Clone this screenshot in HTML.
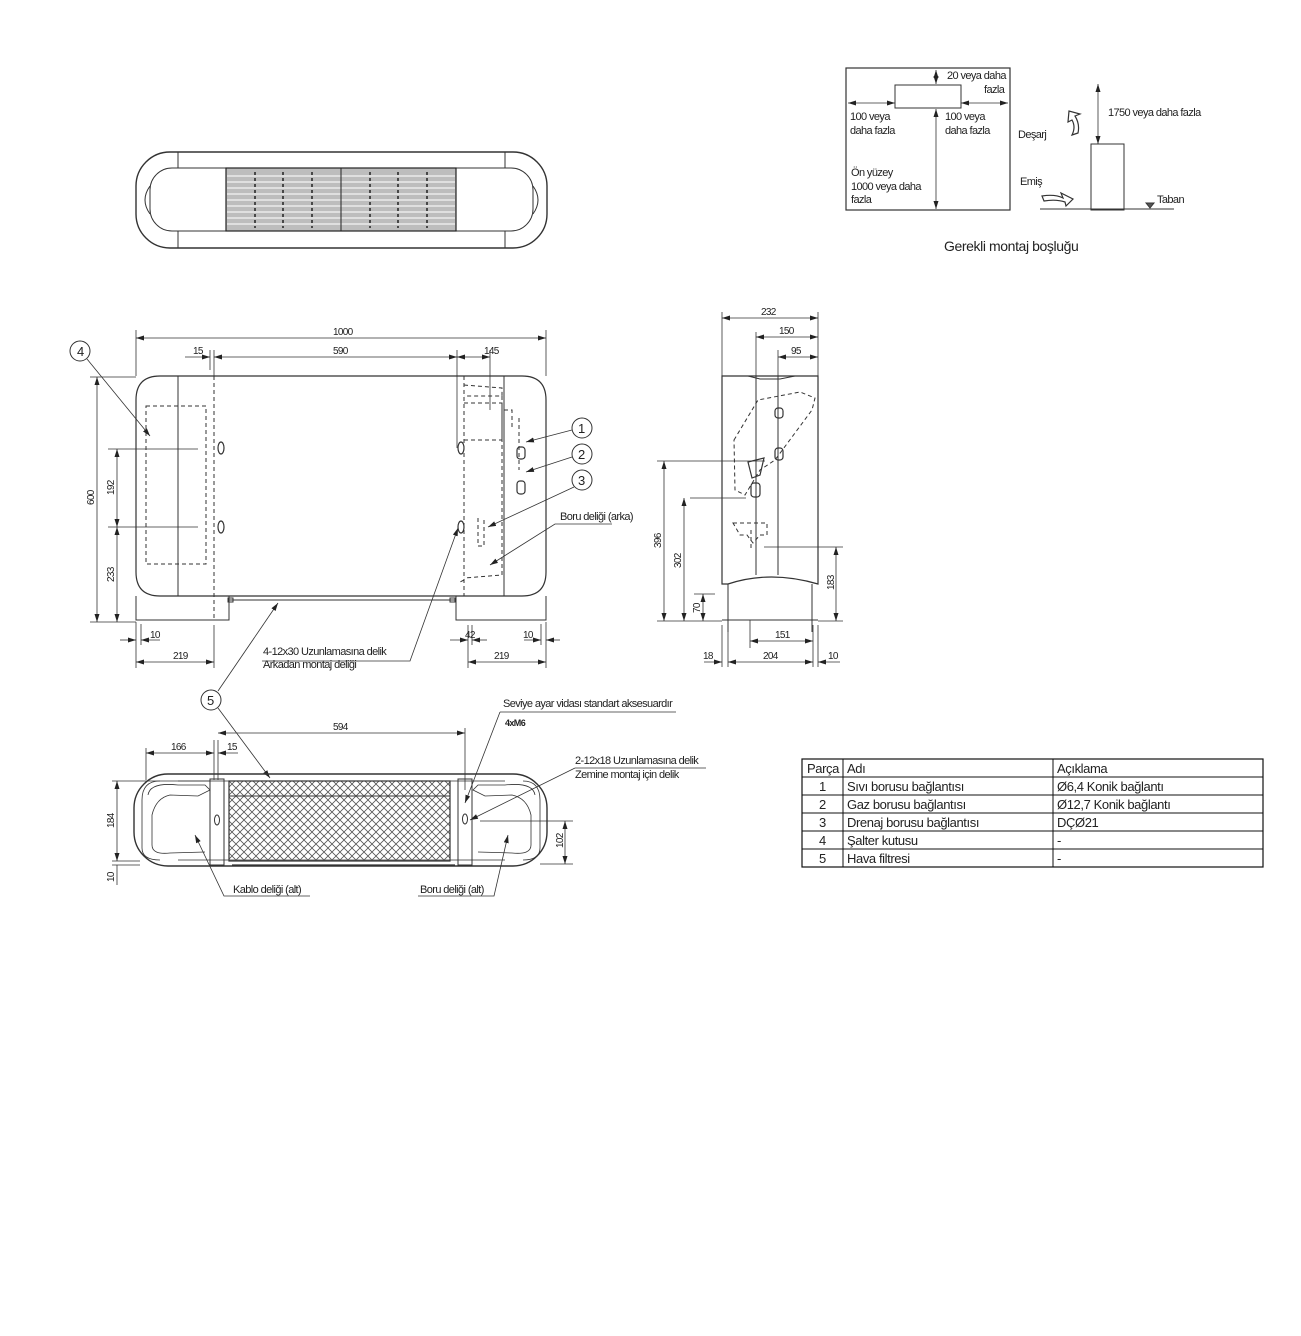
<!DOCTYPE html>
<html><head><meta charset="utf-8"><style>
html,body{margin:0;padding:0;background:#fff;}
svg{display:block;}
text{font-family:"Liberation Sans",sans-serif;fill:#222;}
.t{font-size:11px;letter-spacing:-0.6px;}
.s{font-size:10px;letter-spacing:-0.7px;}
.tb{font-size:13px;letter-spacing:-0.4px;}
</style></head><body>
<svg width="1301" height="1336" viewBox="0 0 1301 1336" xmlns="http://www.w3.org/2000/svg">
<defs>
<marker id="a" markerWidth="8" markerHeight="6" refX="8" refY="3" orient="auto-start-reverse" markerUnits="userSpaceOnUse"><path d="M0,0.5 L8,3 L0,5.5 z" fill="#222"/></marker>
<pattern id="mesh" width="8" height="8" patternUnits="userSpaceOnUse"><path d="M0,0 L8,8 M8,0 L0,8" stroke="#555" stroke-width="0.8"/></pattern>
</defs>
<g fill="none" stroke="#333" stroke-width="1">

<!-- TOP VIEW -->
<rect x="136" y="152" width="411" height="96" rx="34" stroke-width="1.4"/>
<rect x="150" y="168" width="383" height="63" rx="22"/>
<line x1="178" y1="152" x2="178" y2="168"/><line x1="178" y1="231" x2="178" y2="248"/>
<line x1="505" y1="152" x2="505" y2="168"/><line x1="505" y1="231" x2="505" y2="248"/>
<path d="M150,186 Q140,200 150,214 M533,186 Q543,200 533,214"/>
<rect x="226" y="168" width="230" height="63" fill="#bdbdbd" stroke="#222" stroke-width="1.2"/>
<g stroke="#f4f4f4" stroke-width="1.2">
<line x1="227" y1="176" x2="455" y2="176"/><line x1="227" y1="182" x2="455" y2="182"/><line x1="227" y1="188" x2="455" y2="188"/><line x1="227" y1="194" x2="455" y2="194"/><line x1="227" y1="200" x2="455" y2="200"/><line x1="227" y1="206" x2="455" y2="206"/><line x1="227" y1="212" x2="455" y2="212"/><line x1="227" y1="218" x2="455" y2="218"/><line x1="227" y1="224" x2="455" y2="224"/>
</g>
<line x1="341" y1="168" x2="341" y2="231" stroke="#222"/>
<g stroke="#222" stroke-width="1.5" stroke-dasharray="3,3">
<line x1="255" y1="172" x2="255" y2="228"/><line x1="283" y1="172" x2="283" y2="228"/><line x1="312" y1="172" x2="312" y2="228"/><line x1="370" y1="172" x2="370" y2="228"/><line x1="398" y1="172" x2="398" y2="228"/><line x1="427" y1="172" x2="427" y2="228"/>
</g>

<!-- FRONT VIEW -->
<path d="M160,376 H522 Q546,376 546,400 V572 Q546,596 522,596 H160 Q136,596 136,572 V400 Q136,376 160,376 Z" stroke-width="1.2"/>
<line x1="178" y1="376" x2="178" y2="596"/><line x1="504" y1="376" x2="504" y2="596"/>
<g stroke-dasharray="4,3">
<line x1="214" y1="376" x2="214" y2="620"/><line x1="464" y1="376" x2="464" y2="596"/>
<rect x="146" y="406" width="60" height="158"/>
<path d="M464,385 L502,388 V396 H464 M464,403 H502 V440 M464,440 H502 M502,396 V575 L464,578 M464,580 L460,582"/>
<path d="M504,410 H512 V430 M519,418 V470"/>
<path d="M478,518 V546 H484 V518"/>
</g>
<!-- feet -->
<path d="M136,596 V620 H229 V596 M456,596 V620 H546 V596"/>
<path d="M229,596 H456 M229,600 H456"/>
<rect x="228" y="598" width="5" height="4"/><rect x="450" y="598" width="5" height="4"/>
<!-- slots -->
<g stroke-width="1.2">
<ellipse cx="221" cy="448" rx="3" ry="6"/><ellipse cx="221" cy="527" rx="3" ry="6"/>
<ellipse cx="461" cy="448" rx="3" ry="6"/><ellipse cx="461" cy="527" rx="3" ry="6"/>
<rect x="517" y="447" width="8" height="12" rx="3"/><rect x="517" y="481" width="8" height="13" rx="3"/>
</g>
<!-- dims front -->
<g stroke-width="0.8">
<line x1="136" y1="330" x2="136" y2="376"/><line x1="546" y1="330" x2="546" y2="376"/>
<line x1="136" y1="338" x2="546" y2="338" marker-start="url(#a)" marker-end="url(#a)"/>
<line x1="210" y1="350" x2="210" y2="370"/><line x1="214" y1="350" x2="214" y2="376"/>
<line x1="185" y1="357" x2="210" y2="357" marker-end="url(#a)"/>
<line x1="214" y1="357" x2="457" y2="357" marker-start="url(#a)" marker-end="url(#a)"/>
<line x1="457" y1="350" x2="457" y2="448"/><line x1="490" y1="350" x2="490" y2="410"/>
<line x1="457" y1="357" x2="490" y2="357" marker-start="url(#a)" marker-end="url(#a)"/>
<line x1="90" y1="377" x2="136" y2="377"/><line x1="90" y1="622" x2="136" y2="622"/>
<line x1="97" y1="377" x2="97" y2="622" marker-start="url(#a)" marker-end="url(#a)"/>
<line x1="108" y1="449" x2="198" y2="449"/><line x1="108" y1="527" x2="198" y2="527"/>
<line x1="117" y1="449" x2="117" y2="527" marker-start="url(#a)" marker-end="url(#a)"/>
<line x1="117" y1="527" x2="117" y2="622" marker-start="url(#a)" marker-end="url(#a)"/>
<line x1="136" y1="622" x2="136" y2="668"/><line x1="141" y1="624" x2="141" y2="645"/>
<line x1="120" y1="640" x2="136" y2="640" marker-end="url(#a)"/><line x1="160" y1="640" x2="141" y2="640" marker-end="url(#a)"/>
<line x1="214" y1="625" x2="214" y2="668"/>
<line x1="136" y1="662" x2="214" y2="662" marker-start="url(#a)" marker-end="url(#a)"/>
<line x1="468" y1="625" x2="468" y2="668"/><line x1="546" y1="622" x2="546" y2="668"/><line x1="541" y1="624" x2="541" y2="645"/>
<line x1="468" y1="662" x2="546" y2="662" marker-start="url(#a)" marker-end="url(#a)"/>
<line x1="450" y1="640" x2="468" y2="640" marker-end="url(#a)"/><line x1="487" y1="640" x2="472" y2="640" marker-end="url(#a)"/>
<line x1="472" y1="625" x2="472" y2="645"/>
<line x1="524" y1="640" x2="541" y2="640" marker-end="url(#a)"/><line x1="560" y1="640" x2="546" y2="640" marker-end="url(#a)"/>
</g>
<!-- balloons front -->
<circle cx="80" cy="351" r="10"/>
<line x1="87" y1="359" x2="150" y2="436" marker-end="url(#a)" stroke-width="0.8"/>
<circle cx="582" cy="428" r="10"/><circle cx="582" cy="454" r="10"/><circle cx="582" cy="480" r="10"/>
<g stroke-width="0.8">
<line x1="572" y1="430" x2="526" y2="442" marker-end="url(#a)"/>
<line x1="572" y1="457" x2="526" y2="472" marker-end="url(#a)"/>
<line x1="574" y1="487" x2="488" y2="527" marker-end="url(#a)"/>
<path d="M612,524 H555 L490,565" marker-end="url(#a)"/>
<path d="M262,661 H410 L458,528" marker-end="url(#a)"/>
<line x1="218" y1="691" x2="278" y2="603" marker-end="url(#a)"/>
</g>
<circle cx="211" cy="700" r="10"/>
<line x1="218" y1="708" x2="270" y2="778" stroke-width="0.8" marker-end="url(#a)"/>

<!-- SIDE VIEW -->
<path d="M722,376 H818 V584 Q770,570 728,584 H722 Z" stroke-width="1.2"/>
<path d="M728,584 V632 M812,584 V632 M722,620 H818"/>
<line x1="756" y1="376" x2="756" y2="575"/><line x1="778" y1="376" x2="778" y2="575"/>
<path d="M748,376 L760,379 H780 L795,376"/>
<g stroke-dasharray="4,3">
<path d="M734,440 L758,400 L800,392 L815,398 L812,410 L775,460 L760,470 L745,495 L735,490 Z"/>
<path d="M733,523 H767 V535 H760 L753,543 L747,535 H740 Z"/>
<line x1="751" y1="530" x2="751" y2="548"/>
</g>
<g stroke-width="1.2">
<rect x="775" y="408" width="8" height="10" rx="3"/><rect x="775" y="448" width="8" height="12" rx="3"/>
<rect x="751" y="483" width="9" height="14" rx="3"/>
<path d="M748,462 L764,458 L760,475 L752,478 Z"/>
</g>
<g stroke-width="0.8">
<line x1="722" y1="312" x2="722" y2="376"/><line x1="818" y1="312" x2="818" y2="376"/>
<line x1="722" y1="318" x2="818" y2="318" marker-start="url(#a)" marker-end="url(#a)"/>
<line x1="756" y1="332" x2="756" y2="376"/>
<line x1="756" y1="337" x2="818" y2="337" marker-start="url(#a)" marker-end="url(#a)"/>
<line x1="778" y1="350" x2="778" y2="376"/>
<line x1="778" y1="357" x2="818" y2="357" marker-start="url(#a)" marker-end="url(#a)"/>
<line x1="657" y1="461" x2="765" y2="461"/><line x1="690" y1="498" x2="746" y2="498"/>
<line x1="694" y1="594" x2="715" y2="594"/><line x1="657" y1="621" x2="722" y2="621"/>
<line x1="664" y1="461" x2="664" y2="621" marker-start="url(#a)" marker-end="url(#a)"/>
<line x1="684" y1="498" x2="684" y2="621" marker-start="url(#a)" marker-end="url(#a)"/>
<line x1="703" y1="594" x2="703" y2="621" marker-start="url(#a)" marker-end="url(#a)"/>
<line x1="764" y1="547" x2="843" y2="547"/><line x1="818" y1="621" x2="843" y2="621"/>
<line x1="836" y1="547" x2="836" y2="621" marker-start="url(#a)" marker-end="url(#a)"/>
<line x1="750" y1="620" x2="750" y2="648"/>
<line x1="750" y1="641" x2="813" y2="641" marker-start="url(#a)" marker-end="url(#a)"/>
<line x1="722" y1="625" x2="722" y2="667"/><line x1="728" y1="625" x2="728" y2="667"/><line x1="813" y1="625" x2="813" y2="667"/><line x1="818" y1="625" x2="818" y2="667"/>
<line x1="704" y1="662" x2="722" y2="662" marker-end="url(#a)"/>
<line x1="728" y1="662" x2="813" y2="662" marker-start="url(#a)" marker-end="url(#a)"/>
<line x1="840" y1="662" x2="818" y2="662" marker-end="url(#a)"/>
</g>

<!-- BOTTOM VIEW -->
<rect x="134" y="774" width="413" height="92" rx="34" stroke-width="1.4"/>
<path d="M178,781 H505 M178,860 H505" stroke-width="0.8"/>
<path d="M160,781 Q142,781 142,800 V848 Q142,860 160,860 M523,781 Q540,781 540,800 V848 Q540,860 523,860" stroke-width="0.8"/>
<path d="M148,795 Q150,782 178,785 H205 L210,790 L198,796 L170,795 Q156,798 152,815 V845 Q152,855 170,853 L205,852" stroke-width="0.8"/>
<path d="M535,795 Q533,782 505,785 H478 L473,790 L485,796 L512,795 Q527,798 531,815 V845 Q531,855 512,853 L478,852" stroke-width="0.8"/>
<rect x="210" y="779" width="14" height="86"/><rect x="458" y="779" width="14" height="86"/>
<rect x="229" y="781" width="221" height="80" fill="url(#mesh)" stroke-width="1.2"/>
<line x1="229" y1="796" x2="450" y2="796"/>
<line x1="232" y1="865" x2="455" y2="865" stroke-width="1.2"/>
<ellipse cx="217" cy="820" rx="2.5" ry="5"/><ellipse cx="465" cy="819" rx="2.5" ry="5"/>
<g stroke-width="0.8">
<line x1="146" y1="748" x2="146" y2="780"/><line x1="214" y1="740" x2="214" y2="780"/><line x1="218" y1="740" x2="218" y2="780"/>
<line x1="146" y1="753" x2="214" y2="753" marker-start="url(#a)" marker-end="url(#a)"/>
<line x1="238" y1="753" x2="218" y2="753" marker-end="url(#a)"/>
<line x1="465" y1="728" x2="465" y2="790"/>
<line x1="218" y1="733" x2="465" y2="733" marker-start="url(#a)" marker-end="url(#a)"/>
<line x1="112" y1="781" x2="210" y2="781"/><line x1="112" y1="861" x2="140" y2="861"/><line x1="112" y1="865" x2="140" y2="865"/>
<line x1="117" y1="781" x2="117" y2="861" marker-start="url(#a)" marker-end="url(#a)"/>
<line x1="117" y1="865" x2="117" y2="885"/>
<line x1="480" y1="821" x2="573" y2="821"/><line x1="540" y1="864" x2="573" y2="864"/>
<line x1="565" y1="821" x2="565" y2="864" marker-start="url(#a)" marker-end="url(#a)"/>
<path d="M500,712 H676 M500,712 L465,803" marker-end="url(#a)"/>
<path d="M575,768 H706 M575,768 L470,820" marker-end="url(#a)"/>
<path d="M310,896 H224 L195,835" marker-end="url(#a)"/>
<path d="M418,896 H494 L508,835" marker-end="url(#a)"/>
</g>

<!-- CLEARANCE -->
<rect x="846" y="68" width="164" height="142" stroke-width="1.2"/>
<rect x="895" y="85" width="66" height="23"/>
<g stroke-width="0.8">
<line x1="936" y1="70" x2="936" y2="84" marker-start="url(#a)" marker-end="url(#a)"/>
<line x1="848" y1="103" x2="895" y2="103" marker-start="url(#a)" marker-end="url(#a)"/>
<line x1="961" y1="103" x2="1008" y2="103" marker-start="url(#a)" marker-end="url(#a)"/>
<line x1="936" y1="109" x2="936" y2="209" marker-start="url(#a)" marker-end="url(#a)"/>
<line x1="1098" y1="84" x2="1098" y2="144" marker-start="url(#a)" marker-end="url(#a)"/>
</g>
<rect x="1091" y="144" width="33" height="66"/>
<line x1="1040" y1="209" x2="1174" y2="209"/>
<path d="M1146,203 L1150,208 L1154,203 Z" fill="#555"/>
<path d="M1072,135 L1078,133 Q1080,124 1075,116 L1080,114 L1069,111 L1068,122 L1072,120 Q1076,127 1072,135 Z" stroke-width="1.2"/>
<path d="M1042,196 Q1055,194 1063,198 L1061,193 L1073,199 L1066,206 L1065,202 Q1056,199 1044,201 Z" stroke-width="1.2"/>

<!-- TABLE -->
<rect x="802" y="759" width="461" height="108" stroke-width="1.2" stroke="#111"/>
<g stroke="#111">
<line x1="802" y1="777" x2="1263" y2="777"/><line x1="802" y1="795" x2="1263" y2="795"/><line x1="802" y1="813" x2="1263" y2="813"/><line x1="802" y1="831" x2="1263" y2="831"/><line x1="802" y1="849" x2="1263" y2="849"/>
<line x1="843" y1="759" x2="843" y2="867"/><line x1="1053" y1="759" x2="1053" y2="867"/>
</g>
</g>

<!-- TEXT -->
<g class="s">
<text x="333" y="335">1000</text>
<text x="193" y="354">15</text><text x="333" y="354">590</text><text x="484" y="354">145</text>
<text x="150" y="638">10</text><text x="173" y="659">219</text>
<text x="465" y="638">42</text><text x="523" y="638">10</text><text x="494" y="659">219</text>
<text transform="translate(94,505) rotate(-90)">600</text>
<text transform="translate(114,495) rotate(-90)">192</text>
<text transform="translate(114,582) rotate(-90)">233</text>
<text x="761" y="315">232</text><text x="779" y="334">150</text><text x="791" y="354">95</text>
<text transform="translate(661,548) rotate(-90)">396</text>
<text transform="translate(681,568) rotate(-90)">302</text>
<text transform="translate(700,613) rotate(-90)">70</text>
<text transform="translate(834,590) rotate(-90)">183</text>
<text x="775" y="638">151</text><text x="703" y="659">18</text><text x="763" y="659">204</text><text x="828" y="659">10</text>
<text x="333" y="730">594</text><text x="171" y="750">166</text><text x="227" y="750">15</text>
<text transform="translate(114,828) rotate(-90)">184</text>
<text transform="translate(114,882) rotate(-90)">10</text>
<text transform="translate(563,848) rotate(-90)">102</text>
</g>
<g class="t">
<text x="77" y="356" style="font-size:13px">4</text>
<text x="578" y="433" style="font-size:13px">1</text><text x="578" y="459" style="font-size:13px">2</text><text x="578" y="485" style="font-size:13px">3</text>
<text x="207" y="705" style="font-size:13px">5</text>
<text x="560" y="520">Boru deliği (arka)</text>
<text x="263" y="655">4-12x30 Uzunlamasına delik</text>
<text x="263" y="668">Arkadan montaj deliği</text>
<text x="503" y="707">Seviye ayar vidası standart aksesuardır</text>
<text x="505" y="726" style="font-size:9px;font-weight:bold">4xM6</text>
<text x="575" y="764">2-12x18 Uzunlamasına delik</text>
<text x="575" y="778">Zemine montaj için delik</text>
<text x="233" y="893">Kablo deliği (alt)</text>
<text x="420" y="893">Boru deliği (alt)</text>
<text x="947" y="79">20 veya daha</text><text x="984" y="93">fazla</text>
<text x="850" y="120">100 veya</text><text x="850" y="134">daha fazla</text>
<text x="945" y="120">100 veya</text><text x="945" y="134">daha fazla</text>
<text x="851" y="176">Ön yüzey</text><text x="851" y="190">1000 veya daha</text><text x="851" y="203">fazla</text>
<text x="1108" y="116">1750 veya daha fazla</text>
<text x="1018" y="138">Deşarj</text><text x="1020" y="185">Emiş</text><text x="1157" y="203">Taban</text>
</g>
<text x="944" y="251" style="font-size:14px;letter-spacing:-0.4px">Gerekli montaj boşluğu</text>
<g class="tb">
<text x="807" y="773">Parça</text><text x="847" y="773">Adı</text><text x="1057" y="773">Açıklama</text>
<text x="819" y="791">1</text><text x="847" y="791">Sıvı borusu bağlantısı</text><text x="1057" y="791">Ø6,4 Konik bağlantı</text>
<text x="819" y="809">2</text><text x="847" y="809">Gaz borusu bağlantısı</text><text x="1057" y="809">Ø12,7 Konik bağlantı</text>
<text x="819" y="827">3</text><text x="847" y="827">Drenaj borusu bağlantısı</text><text x="1057" y="827">DÇØ21</text>
<text x="819" y="845">4</text><text x="847" y="845">Şalter kutusu</text><text x="1057" y="845">-</text>
<text x="819" y="863">5</text><text x="847" y="863">Hava filtresi</text><text x="1057" y="863">-</text>
</g>
</svg>
</body></html>
